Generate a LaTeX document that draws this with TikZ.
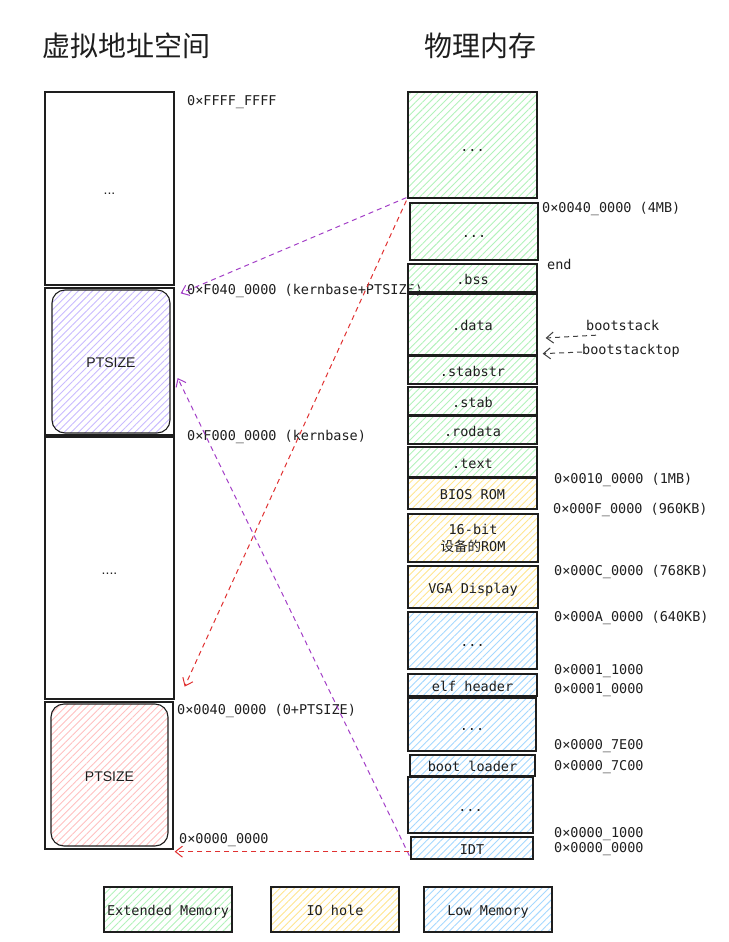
\documentclass[tikz,border=0pt]{standalone}
\usepackage{fontspec}
\setmonofont{DejaVu Sans Mono}
\setsansfont{Liberation Sans}
\newfontfamily\cjk{Noto Sans CJK SC}
\usetikzlibrary{patterns.meta,arrows.meta,calc}
\definecolor{ink}{HTML}{1E1E1E}
\definecolor{grn}{HTML}{B2F2BB}
\definecolor{yel}{HTML}{FFE58F}
\definecolor{blu}{HTML}{A5D8FF}
\definecolor{vio}{HTML}{C9BBFF}
\definecolor{rd}{HTML}{FFC0C0}
\definecolor{arrv}{HTML}{A33FC7}
\definecolor{arrr}{HTML}{E03131}
\newcommand\blk[7]{\node[#1, minimum width={(#5-#3)*1pt}, minimum height={(#6-#4)*1pt}] (#2) at ({(#3+#5)/2},{(#4+#6)/2}) {#7};}
\tikzset{
  mono/.style={font=\ttfamily\fontsize{13.5}{17}\selectfont, text=ink},
  tc/.style={text height=12pt, text depth=0pt},
  mem/.style={draw=ink, line width=1.3pt, inner sep=0pt, mono, tc, align=center},
  hatch/.style={pattern={Lines[angle=45,distance=5pt,line width=0.9pt]}, pattern color=#1},
  ext/.style={mem, hatch=grn},
  iob/.style={mem, hatch=yel},
  low/.style={mem, hatch=blu},
  vbox/.style={draw=ink, line width=1.3pt, inner sep=0pt, font=\sffamily\fontsize{14}{16}\selectfont, text=ink, tc},
  ptbox/.style={vbox, rounded corners=13pt, line width=1.1pt, hatch=#1},
  lbl/.style={mono, tc, anchor=west, inner sep=0pt},
  title/.style={font=\cjk\fontsize{28}{30}\selectfont, text=ink},
  dsh/.style={dashed, dash pattern=on 5pt off 4pt, line width=1pt, -{Straight Barb[length=7pt,width=11pt]}},
}
\begin{document}
\begin{tikzpicture}[x=1pt,y=-1pt]
\useasboundingbox (0,0) rectangle (728,942);
% titles
\node[title] (t1) at (126,46) {虚拟地址空间};
\node[title] (t2) at (480,46) {物理内存};
% virtual address space
\blk{vbox}{v1}{45}{92}{174}{285}{...}
\blk{vbox}{v2}{45}{288}{174}{435}{}
\blk{ptbox=vio}{ptv2}{52}{290}{170}{433}{PTSIZE}
\blk{vbox}{v3}{45}{437}{174}{699}{....}
\blk{vbox}{v4}{45}{702}{173}{849}{}
\blk{ptbox=rd}{ptv4}{51}{704}{168}{846}{PTSIZE}
\node[lbl] (a1) at (187,99) {0×FFFF\_FFFF};
\node[lbl] (a2) at (187,288) {0×F040\_0000 (kernbase+PTSIZE)};
\node[lbl] (a3) at (187,434) {0×F000\_0000 (kernbase)};
\node[lbl] (a4) at (177,708) {0×0040\_0000 (0+PTSIZE)};
\node[lbl] (a5) at (179,837) {0×0000\_0000};
% physical memory
\blk{ext}{p1}{408}{92}{537}{198}{...}
\blk{ext}{p2}{410}{203}{538}{260}{...}
\blk{ext}{bss}{408}{264}{537}{292}{.bss}
\blk{ext}{data}{408}{294}{537}{355}{.data}
\blk{ext}{stabstr}{408}{356}{537}{384}{.stabstr}
\blk{ext}{stab}{408}{387}{537}{415}{.stab}
\blk{ext}{rodata}{408}{416}{537}{444}{.rodata}
\blk{ext}{txt}{408}{447}{537}{477}{.text}
\blk{iob}{bios}{408}{478}{537}{509}{BIOS ROM}
\blk{iob, text height=, text depth=}{rom}{408}{514}{538}{562}{16-bit\\{\cjk\fontsize{13.5}{17}\selectfont 设备的}ROM}
\blk{iob}{vga}{408}{566}{538}{608}{VGA Display}
\blk{low}{l1}{408}{612}{537}{669}{...}
\blk{low}{elf}{408}{674}{537}{696}{elf header}
\blk{low}{l2}{408}{698}{536}{751}{...}
\blk{low}{boot}{410}{755}{535}{776}{boot loader}
\blk{low}{l3}{408}{777}{533}{833}{...}
\blk{low}{idt}{411}{837}{533}{859}{IDT}
% physical labels
\node[lbl] (b1) at (542,206) {0×0040\_0000 (4MB)};
\node[lbl] (b2) at (547,263) {end};
\node[lbl] (bs) at (586,324) {bootstack};
\node[lbl] (bst) at (582,348) {bootstacktop};
\node[lbl] (b3) at (554,477) {0×0010\_0000 (1MB)};
\node[lbl] (b4) at (553,507) {0×000F\_0000 (960KB)};
\node[lbl] (b5) at (554,569) {0×000C\_0000 (768KB)};
\node[lbl] (b6) at (554,615) {0×000A\_0000 (640KB)};
\node[lbl] (b7) at (554,668) {0×0001\_1000};
\node[lbl] (b8) at (554,687) {0×0001\_0000};
\node[lbl] (b9) at (554,743) {0×0000\_7E00};
\node[lbl] (b10) at (554,764) {0×0000\_7C00};
\node[lbl] (b11) at (554,831) {0×0000\_1000};
\node[lbl] (b12) at (554,846) {0×0000\_0000};
% legend
\blk{ext}{g1}{104}{887}{232}{932}{Extended Memory}
\blk{iob}{g2}{271}{887}{399}{932}{IO hole}
\blk{low}{g3}{424}{887}{552}{932}{Low Memory}
% arrows
\draw[dsh, draw=ink!85] ([shift={(10,5)}]bs.south west) -- ([shift={(8,13.5)}]data.east);
\draw[dsh, draw=ink!85] ([shift={(0,4)}]bst.west) -- ([shift={(5,-2)}]data.south east);
\draw[dsh, draw=arrv] ([shift={(-1,-1)}]p1.south west) -- ([shift={(6,6)}]v2.north east);
\draw[dsh, draw=arrr] ([shift={(-1,2)}]p1.south west) -- ([shift={(10,-13)}]v3.south east);
\draw[dsh, draw=arrv] ([shift={(-1,-4)}]idt.south west) -- ([shift={(3,16.5)}]v2.east);
\draw[dsh, draw=arrr] ([shift={(-1,-8)}]idt.south west) -- ([shift={(1,2)}]v4.south east);
\end{tikzpicture}
\end{document}
